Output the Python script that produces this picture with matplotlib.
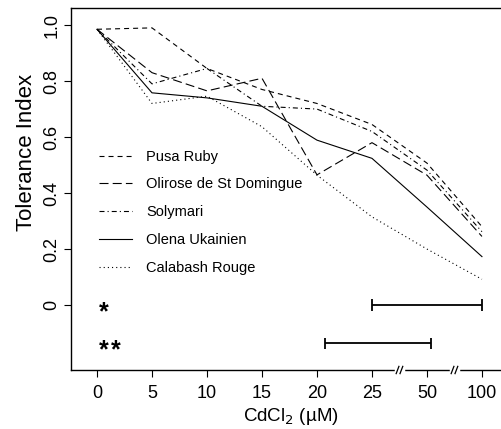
import numpy as np
import matplotlib
matplotlib.use('Agg')
import matplotlib.pyplot as plt
from matplotlib.transforms import blended_transform_factory

plt.rcParams['font.family'] = ['Liberation Sans', 'DejaVu Sans']
plt.rcParams['lines.scale_dashes'] = False

# CdCl2 doses (plotted at equal spacing)
doses = ['0', '5', '10', '15', '20', '25', '50', '100']

pusa_ruby = [0.985, 0.99, 0.845, 0.77, 0.72, 0.645, 0.507, 0.28]
olirose   = [0.985, 0.83, 0.765, 0.81, 0.465, 0.58, 0.464, 0.245]
solymari  = [0.985, 0.79, 0.845, 0.71, 0.70, 0.62, 0.482, 0.262]
olena     = [0.985, 0.758, 0.74, 0.71, 0.589, 0.524, 0.35, 0.173]
calabash  = [0.985, 0.72, 0.746, 0.637, 0.464, 0.315, 0.20, 0.092]

names = ['Pusa Ruby', 'Olirose de St Domingue', 'Solymari',
         'Olena Ukainien', 'Calabash Rouge']

# significance bars (x in dose-index units)
sig_marks = ['*', '**']
sig_start = [5.0, 4.15]
sig_end   = [7.0, 6.08]
sig_level = [0.0, -0.137]

fig = plt.figure(figsize=(5.02, 4.29), dpi=100)
ax = fig.add_axes([71/502, 59/429, 439/502, 362/429])

x = np.arange(len(doses))
styles = [(0, (3.6, 2.9)), (0, (6.5, 3.0)), (0, (3.6, 2.2, 0.8, 2.2)),
          '-', (0, (0.8, 2.2))]
series = [pusa_ruby, olirose, solymari, olena, calabash]
for vals, ls, nm in zip(series, styles, names):
    ax.plot(x, vals, color='black', lw=0.8, linestyle=ls, label=nm)

for mk, x0, x1, yv in zip(sig_marks, sig_start, sig_end, sig_level):
    ax.plot([x0, x1], [yv, yv], color='black', lw=1.3, solid_capstyle='butt')
    ax.vlines([x0, x1], yv - 0.02, yv + 0.02, color='black', lw=1.3)
    for k in range(len(mk)):
        ax.text(0.04 + k * 0.22, yv - 0.026, '*', fontsize=18,
                fontweight='bold', ha='left', va='center')

ax.set_xlim(-0.473, 7.51)
ax.set_ylim(-0.232, 1.061)
ax.set_xticks(x)
ax.set_xticklabels(doses, fontsize=13)
ax.set_yticks([0, 0.2, 0.4, 0.6, 0.8, 1.0])
ax.set_yticklabels(['0', '0.2', '0.4', '0.6', '0.8', '1.0'], fontsize=13,
                   rotation=90, va='center')
ax.tick_params(direction='out', length=5, width=0.8)
ax.tick_params(axis='x', pad=6)
ax.tick_params(axis='y', pad=2.5)
for sp in ax.spines.values():
    sp.set_linewidth(1.0)
ax.spines['right'].set_visible(False)

ax.set_xlabel('CdCl$_2$ (\u00b5M)', fontsize=13.5, labelpad=3)
ax.set_ylabel('Tolerance Index', fontsize=16)
ax.yaxis.set_label_coords(-0.078, 0.6)

# axis breaks on the x axis
tr = blended_transform_factory(ax.transData, ax.transAxes)
for xb in [5.5, 6.5]:
    ax.plot([xb - 0.07, xb + 0.07], [0, 0], color='white', lw=2.5,
            transform=tr, clip_on=False, zorder=5)
    for off in [-0.035, 0.035]:
        ax.plot([xb + off - 0.025, xb + off + 0.025], [-0.01, 0.01],
                color='black', lw=0.9, transform=tr, clip_on=False, zorder=6)

ax.legend(loc='upper left', bbox_to_anchor=(0.035, 0.645), frameon=False,
          fontsize=10.5, handlelength=2.2, labelspacing=0.95,
          handletextpad=1.0)

fig.savefig('out.png', dpi=100)
